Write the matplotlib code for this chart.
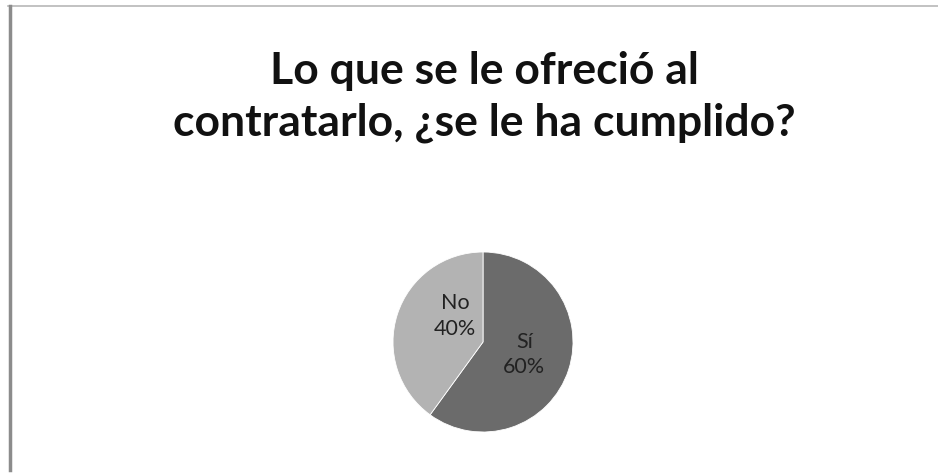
import matplotlib.pyplot as plt
from matplotlib.lines import Line2D

labels = ["Sí", "No"]
shares = [60, 40]
colors = ["#6b6b6b", "#b3b3b3"]
title = "Lo que se le ofreció al\ncontratarlo, ¿se le ha cumplido?"

fig = plt.figure(figsize=(9.38, 4.77), dpi=100)
fig.patch.set_facecolor("white")

# frame lines: thin on top, thicker on the left
fig.add_artist(Line2D([8 / 938, 1], [1 - 7 / 477, 1 - 7 / 477],
                      transform=fig.transFigure, color="#b8b8b8", lw=1.2))
fig.add_artist(Line2D([10 / 938, 10 / 938], [1 - 7 / 477, 6 / 477],
                      transform=fig.transFigure, color="#8c8c8c", lw=2.5))

fig.text(484 / 938, 1 - 97 / 477, title, ha="center", va="center",
         fontsize=32, fontweight="bold", family="Lato", linespacing=1.35,
         color="#111111")

# pie centred at ~(483, 343), radius ~90 px
ax = fig.add_axes([(483 - 90) / 938, 1 - (343 + 90) / 477, 180 / 938, 180 / 477])
wedges, _ = ax.pie(shares, colors=colors, startangle=90, counterclock=False,
                   wedgeprops=dict(edgecolor="white", linewidth=0.6))
ax.set_aspect("equal")
ax.set_xlim(-1, 1)
ax.set_ylim(-1, 1)

ax.text(0.46, -0.13, f"{labels[0]}\n{shares[0]}%", ha="center", va="center",
        fontsize=15.5, family="Lato", color="#222222", linespacing=1.35)
ax.text(-0.31, 0.3, f"{labels[1]}\n{shares[1]}%", ha="center", va="center",
        fontsize=15.5, family="Lato", color="#222222", linespacing=1.35)

fig.savefig("out.png", dpi=100, facecolor="white")
